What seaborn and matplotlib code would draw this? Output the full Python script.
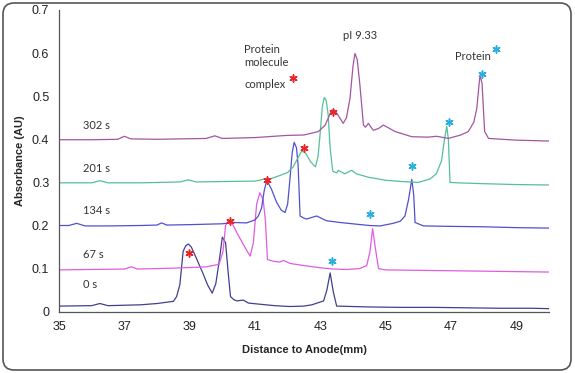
import numpy as np
import pandas as pd
import seaborn as sns
import matplotlib.pyplot as plt
from matplotlib.patches import FancyBboxPatch
from matplotlib.transforms import IdentityTransform

# -----------------------------
# traces (distance mm, absorbance AU)
# -----------------------------
x_0s = [35.0, 36.0, 36.25, 36.5, 37.5, 38.0, 38.5, 38.6, 38.7, 38.8, 38.88, 38.96, 39.05, 39.2, 39.4,
        39.55, 39.69, 39.8, 39.9, 40.0, 40.1, 40.18, 40.25, 40.35, 40.45, 40.64, 40.8, 41.2, 41.6,
        42.07, 42.5, 42.74, 43.1, 43.2, 43.3, 43.4, 43.5, 44.5, 45.5, 46.5, 47.5, 48.5, 49.5, 50.0]
y_0s = [0.013, 0.014, 0.019, 0.014, 0.016, 0.019, 0.024, 0.035, 0.063, 0.14, 0.153, 0.157, 0.150, 0.125, 0.09,
        0.062, 0.043, 0.065, 0.115, 0.173, 0.16, 0.09, 0.035, 0.028, 0.025, 0.027, 0.02, 0.017, 0.014,
        0.012, 0.013, 0.016, 0.025, 0.05, 0.09, 0.045, 0.013, 0.011, 0.010, 0.010, 0.009, 0.008, 0.008, 0.007]

x_67s = [35.0, 36.0, 37.0, 37.22, 37.4, 38.5, 39.5, 39.9, 40.02, 40.1, 40.18, 40.3, 40.44, 40.65, 40.85,
         40.95, 41.05, 41.15, 41.25, 41.32, 41.38, 41.56, 41.75, 41.87, 42.07, 42.5, 42.99, 43.4, 43.81,
         44.2, 44.42, 44.52, 44.6, 44.68, 44.78, 45.0, 46.0, 47.0, 48.0, 49.0, 50.0]
y_67s = [0.097, 0.098, 0.099, 0.104, 0.099, 0.101, 0.104, 0.11, 0.14, 0.2, 0.211, 0.205, 0.184, 0.155, 0.129,
         0.16, 0.25, 0.276, 0.26, 0.21, 0.121, 0.117, 0.115, 0.119, 0.112, 0.107, 0.102, 0.099, 0.098,
         0.1, 0.107, 0.14, 0.193, 0.15, 0.1, 0.097, 0.096, 0.095, 0.094, 0.093, 0.092]

x_134s = [35.0, 35.3, 35.54, 35.8, 36.5, 37.5, 38.0, 38.14, 38.3, 39.0, 40.0, 40.34, 40.74, 41.0, 41.1,
          41.2, 41.28, 41.36, 41.5, 41.66, 41.8, 41.92, 42.0, 42.07, 42.14, 42.2, 42.27, 42.32, 42.38,
          42.5, 42.58, 42.75, 42.89, 43.19, 43.6, 44.11, 44.5, 44.83, 45.23, 45.45, 45.59, 45.7, 45.8,
          45.86, 45.9, 46.16, 47.0, 48.0, 49.0, 50.0]
y_134s = [0.200, 0.200, 0.205, 0.199, 0.199, 0.200, 0.201, 0.206, 0.201, 0.202, 0.204, 0.207, 0.206, 0.213, 0.222,
          0.24, 0.28, 0.305, 0.285, 0.254, 0.236, 0.23, 0.25, 0.308, 0.37, 0.393, 0.38, 0.34, 0.222,
          0.217, 0.215, 0.219, 0.222, 0.211, 0.207, 0.203, 0.200, 0.199, 0.205, 0.21, 0.222, 0.26, 0.307,
          0.27, 0.207, 0.199, 0.198, 0.197, 0.195, 0.194]

x_201s = [35.0, 36.0, 36.25, 36.5, 37.5, 38.7, 38.96, 39.2, 40.0, 41.0, 41.25, 41.5, 41.76, 42.0, 42.17,
          42.3, 42.43, 42.55, 42.7, 42.85, 42.93, 43.0, 43.06, 43.12, 43.18, 43.24, 43.3, 43.38, 43.5,
          43.55, 43.75, 43.96, 44.1, 44.47, 45.0, 45.49, 46.0, 46.36, 46.55, 46.71, 46.8, 46.87, 46.92,
          46.97, 47.2, 48.0, 49.0, 50.0]
y_201s = [0.299, 0.299, 0.304, 0.299, 0.299, 0.301, 0.306, 0.301, 0.302, 0.303, 0.307, 0.309, 0.316, 0.323, 0.336,
          0.355, 0.373, 0.368, 0.348, 0.336, 0.36, 0.418, 0.475, 0.497, 0.49, 0.457, 0.38, 0.326, 0.322,
          0.328, 0.32, 0.328, 0.32, 0.312, 0.305, 0.302, 0.300, 0.308, 0.32, 0.35, 0.4, 0.43, 0.4,
          0.30, 0.299, 0.297, 0.295, 0.294]

x_302s = [35.0, 36.0, 36.8, 37.0, 37.2, 38.0, 39.5, 39.77, 40.0, 41.0, 41.97, 42.5, 42.94, 43.15, 43.35,
          43.45, 43.55, 43.7, 43.8, 43.91, 44.0, 44.06, 44.13, 44.21, 44.32, 44.38, 44.47, 44.62, 44.78,
          44.93, 45.29, 45.8, 46.3, 46.56, 46.92, 47.3, 47.53, 47.7, 47.79, 47.85, 47.89, 47.95, 48.03,
          48.15, 49.0, 50.0]
y_302s = [0.399, 0.399, 0.400, 0.407, 0.401, 0.400, 0.402, 0.408, 0.402, 0.404, 0.409, 0.410, 0.418, 0.433, 0.468,
          0.466, 0.455, 0.437, 0.45, 0.496, 0.57, 0.599, 0.585, 0.527, 0.433, 0.428, 0.437, 0.421, 0.425,
          0.433, 0.418, 0.406, 0.405, 0.407, 0.402, 0.41, 0.418, 0.44, 0.472, 0.52, 0.549, 0.53, 0.418,
          0.402, 0.398, 0.396]

times = ["0 s", "67 s", "134 s", "201 s", "302 s"]
label_y = [0.064, 0.132, 0.234, 0.333, 0.433]

# asterisks: complex (red) and protein (cyan)
complex_x = [38.98, 40.23, 41.38, 42.49, 43.38, 42.17]
complex_y = [0.137, 0.211, 0.305, 0.379, 0.463, 0.543]
protein_x = [43.35, 44.52, 45.82, 46.95, 47.96, 48.37]
protein_y = [0.118, 0.227, 0.338, 0.439, 0.552, 0.609]

x_ticks = [35, 37, 39, 41, 43, 45, 47, 49]
y_ticks = [0, 0.1, 0.2, 0.3, 0.4, 0.5, 0.6, 0.7]
y_ticklabels = ["0", "0.1", "0.2", "0.3", "0.4", "0.5", "0.6", "0.7"]

# -----------------------------
# long table
# -----------------------------
frames = []
for t, xs, ys in zip(times, [x_0s, x_67s, x_134s, x_201s, x_302s],
                     [y_0s, y_67s, y_134s, y_201s, y_302s]):
    frames.append(pd.DataFrame({"dist": xs, "abs": ys, "time": t}))
df = pd.concat(frames, ignore_index=True)

palette = {"0 s": "#40408f", "67 s": "#e05ce0", "134 s": "#5050d0",
           "201 s": "#55c095", "302 s": "#a3559f"}

sns.set_style("white")
plt.rcParams["font.family"] = ["Liberation Sans", "DejaVu Sans"]

fig = plt.figure(figsize=(5.75, 3.73), dpi=100)
ax = fig.add_axes([59 / 575, 61.3 / 373, 490 / 575, 301.7 / 373])

sns.lineplot(data=df, x="dist", y="abs", hue="time", palette=palette,
             sort=False, estimator=None, legend=False, lw=0.9, ax=ax)

star = (6, 2, 0)
ax.scatter(complex_x, complex_y, marker=star, s=26, c="#e8262a", linewidths=1.1, zorder=5)
ax.scatter(protein_x, protein_y, marker=star, s=26, c="#2aaee0", linewidths=1.1, zorder=5)

# trace labels
ann = dict(family=["Lato", "DejaVu Sans"], fontsize=8, color="#333333", va="center")
for t, yy in zip(times, label_y):
    ax.text(35.75, yy, t, **ann)
ax.text(40.67, 0.593, "Protein\nmolecule", linespacing=1.3, **ann)
ax.text(40.67, 0.528, "complex", **ann)
ax.text(43.69, 0.64, "pI 9.33", **ann)
ax.text(47.12, 0.593, "Protein", **ann)

ax.set_xlim(35, 50)
ax.set_ylim(0, 0.7)
ax.set_xticks(x_ticks)
ax.set_yticks(y_ticks)
ax.set_yticklabels(y_ticklabels)
ax.tick_params(axis="both", direction="out", length=4, width=0.8, colors="#444444",
               labelsize=9, labelcolor="#222222", pad=3)
sns.despine(ax=ax)
for s in ["left", "bottom"]:
    ax.spines[s].set_color("#555555")
    ax.spines[s].set_linewidth(0.9)

ax.set_xlabel("Distance to Anode(mm)", fontsize=8, fontweight="bold", labelpad=8)
ax.set_ylabel("Absorbance (AU)", fontsize=8, fontweight="bold", labelpad=5)

# rounded frame around the whole picture
frame = FancyBboxPatch((3, 3), 568, 367, boxstyle="round,pad=0,rounding_size=11",
                       transform=IdentityTransform(), fill=False, ec="#555555", lw=1.2)
fig.patches.append(frame)

fig.savefig("out.png", dpi=100)
